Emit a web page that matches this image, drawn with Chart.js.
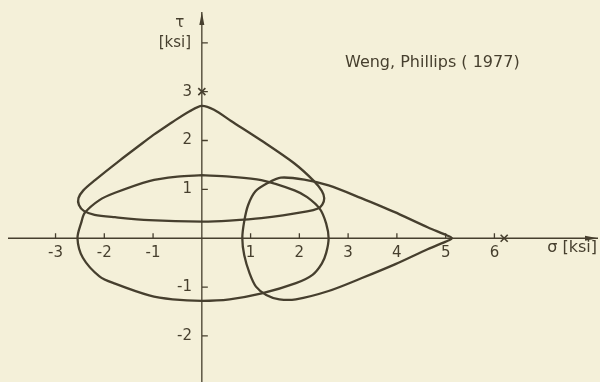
<!DOCTYPE html>
<html>
<head>
<meta charset="utf-8">
<script src="https://cdn.jsdelivr.net/npm/chart.js@4.4.1/dist/chart.umd.min.js"></script>
<style>
  html, body { margin: 0; padding: 0; background: #f4f0d9; }
  #wrap { position: relative; width: 600px; height: 382px; }
  canvas { display: block; }
</style>
</head>
<body>
<div id="wrap"><canvas id="chart" width="600" height="382"></canvas></div>
<script>
// Yield loci in the sigma-tau plane (ksi)
const tauLoopSigma = [-1.0, -0.6, -0.25, 0, 0.25, 0.6, 1.22, 1.9, 2.3, 2.46, 2.51, 2.47, 2.38, 2.16, 1.22, 0.57, 0, -1.08, -1.78, -2.2, -2.42, -2.52, -2.53, -2.43, -2.19, -1.7, -1.0];
const tauLoopTau   = [2.11, 2.38, 2.6, 2.71, 2.63, 2.4, 2.0, 1.53, 1.17, 0.97, 0.82, 0.69, 0.61, 0.55, 0.41, 0.36, 0.34, 0.37, 0.43, 0.48, 0.56, 0.68, 0.82, 0.98, 1.19, 1.58, 2.11];

const initialSigma = [0, 0.57, 1.22, 1.9, 2.16, 2.42, 2.55, 2.6, 2.55, 2.46, 2.27, 1.93, 1.23, 0.57, 0, -0.6, -1.08, -1.78, -2.1, -2.44, -2.55, -2.47, -2.4, -2.1, -1.78, -1.08, -0.5, 0];
const initialTau   = [1.29, 1.26, 1.19, 0.98, 0.84, 0.6, 0.3, 0, -0.3, -0.52, -0.75, -0.92, -1.13, -1.25, -1.28, -1.25, -1.17, -0.93, -0.78, -0.4, 0, 0.33, 0.52, 0.78, 0.93, 1.17, 1.26, 1.29];

const sigmaLoopSigma = [3.97, 3.27, 2.6, 2.1, 1.62, 1.35, 1.1, 0.95, 0.87, 0.83, 0.87, 0.98, 1.11, 1.32, 1.59, 1.93, 2.6, 3.27, 3.97, 4.64, 5.0, 5.13, 5.0, 4.64, 3.97];
const sigmaLoopTau   = [0.53, 0.82, 1.08, 1.2, 1.24, 1.13, 0.96, 0.68, 0.35, 0, -0.35, -0.72, -0.99, -1.16, -1.25, -1.25, -1.08, -0.82, -0.53, -0.22, -0.07, 0, 0.07, 0.22, 0.53];

// Prestrain points marked with crosses
const markSigma = [0, 6.2];
const markTau   = [3, 0];

const xTickValues = [-3, -2, -1, 1, 2, 3, 4, 5, 6];
const xTickLabels = ['-3', '-2', '-1', '1', '2', '3', '4', '5', '6'];
const yTickValues = [-2, -1, 1, 2, 3, 4];
const yTickLabels = ['-2', '-1', '1', '2', '3', ''];

const ink = '#463f2e';
const fontFamily = "'DejaVu Sans', sans-serif";
const tickFont = { family: fontFamily, size: 15 };

const toPoints = (xs, ys) => xs.map((x, i) => ({ x: x, y: ys[i] }));

const curveStyle = {
  showLine: true, fill: false, borderColor: ink, borderWidth: 2.3,
  pointRadius: 0, tension: 0.3, borderCapStyle: 'round', borderJoinStyle: 'round'
};

// positioned axes should not take any room from the plot area
const noRoom = s => {
  if (s.isHorizontal()) s.height = 0; else s.width = 0;
  s.paddingTop = 0; s.paddingBottom = 0; s.paddingLeft = 0; s.paddingRight = 0;
};

// Axis decorations: axis lines through the origin, inner tick marks, arrowheads and texts
const axisDecor = {
  id: 'axisDecor',
  afterDraw(chart) {
    const { ctx, scales: { x, y } } = chart;
    const x0 = x.getPixelForValue(0);
    const y0 = y.getPixelForValue(0);
    const xEnd = chart.width - 2;
    const yTop = y.top;
    ctx.save();
    ctx.strokeStyle = ink;
    ctx.fillStyle = ink;
    ctx.lineWidth = 1.3;
    ctx.beginPath();
    ctx.moveTo(x0, yTop);
    ctx.lineTo(x0, chart.height);
    ctx.moveTo(x.left, y0);
    ctx.lineTo(xEnd, y0);
    x.ticks.forEach(t => {
      const px = x.getPixelForValue(t.value);
      ctx.moveTo(px, y0);
      ctx.lineTo(px, y0 - 5);
    });
    y.ticks.forEach(t => {
      const py = y.getPixelForValue(t.value);
      ctx.moveTo(x0, py);
      ctx.lineTo(x0 + 6, py);
    });
    ctx.stroke();

    // arrowheads
    ctx.beginPath();
    ctx.moveTo(xEnd, y0);
    ctx.lineTo(xEnd - 13, y0 - 2.5);
    ctx.lineTo(xEnd - 13, y0 + 2.5);
    ctx.closePath();
    ctx.fill();
    ctx.beginPath();
    ctx.moveTo(x0, yTop);
    ctx.lineTo(x0 - 2.5, yTop + 13);
    ctx.lineTo(x0 + 2.5, yTop + 13);
    ctx.closePath();
    ctx.fill();

    // texts
    ctx.font = "15px " + fontFamily;
    ctx.textBaseline = 'middle';
    ctx.textAlign = 'center';
    ctx.fillText('τ', x0 - 22, 23);
    ctx.fillText('[ksi]', x0 - 27, 43);
    ctx.textAlign = 'right';
    ctx.font = "16px " + fontFamily;
    ctx.fillText('σ [ksi]', xEnd - 1, y0 + 10);
    ctx.textAlign = 'left';
    ctx.textBaseline = 'alphabetic';
    ctx.fillText('Weng, Phillips ( 1977)', 345, 67);
    ctx.restore();
  }
};

new Chart(document.getElementById('chart'), {
  type: 'scatter',
  data: {
    datasets: [
      Object.assign({ label: 'tau loop', data: toPoints(tauLoopSigma, tauLoopTau) }, curveStyle),
      Object.assign({ label: 'initial', data: toPoints(initialSigma, initialTau) }, curveStyle),
      Object.assign({ label: 'sigma loop', data: toPoints(sigmaLoopSigma, sigmaLoopTau) }, curveStyle),
      {
        label: 'marks', data: toPoints(markSigma, markTau), showLine: false,
        pointStyle: 'crossRot', pointRadius: 5, borderColor: ink, borderWidth: 1.6
      }
    ]
  },
  options: {
    responsive: false,
    animation: false,
    layout: { padding: { left: 8, right: 2, top: 12, bottom: 0 } },
    plugins: { legend: { display: false }, tooltip: { enabled: false } },
    scales: {
      x: {
        type: 'linear', min: -3.975, max: 8.03,
        position: { y: 0 },
        afterFit: noRoom,
        grid: { display: false, drawTicks: false },
        border: { display: false },
        afterBuildTicks: s => { s.ticks = xTickValues.map(v => ({ value: v })); },
        ticks: {
          color: ink, font: tickFont, padding: 6, maxRotation: 0, autoSkip: false,
          callback: (v, i) => xTickLabels[i]
        }
      },
      y: {
        type: 'linear', min: -2.807, max: 4.63,
        // labels sit just left of the sigma = 0 axis line
        position: { x: -0.2 },
        afterFit: noRoom,
        grid: { display: false, drawTicks: false },
        border: { display: false },
        afterBuildTicks: s => { s.ticks = yTickValues.map(v => ({ value: v })); },
        ticks: {
          color: ink, font: tickFont, autoSkip: false,
          callback: (v, i) => yTickLabels[i]
        }
      }
    }
  },
  plugins: [axisDecor]
});
</script>
</body>
</html>
